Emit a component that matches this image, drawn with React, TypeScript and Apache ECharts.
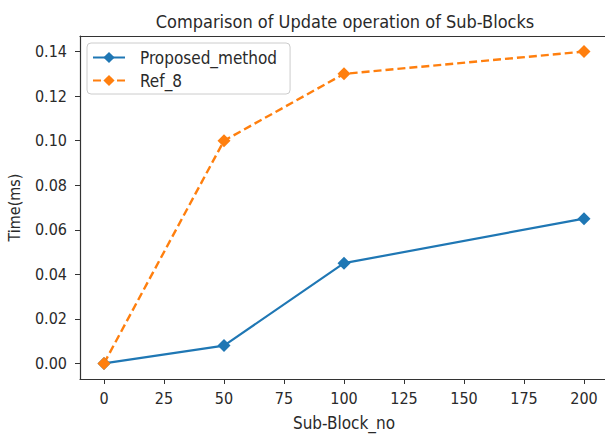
import React, { useEffect, useRef } from "react";
import * as echarts from "echarts";

const subBlocks = [0, 50, 100, 200];
const proposedMethod = [0, 0.008, 0.045, 0.065];
const ref8 = [0, 0.1, 0.13, 0.14];
const xTicks = [0, 25, 50, 75, 100, 125, 150, 175, 200];
const yTicks = [0, 0.02, 0.04, 0.06, 0.08, 0.1, 0.12, 0.14];

const FONT = "DejaVu Sans Condensed, DejaVu Sans";
const TXT = "#2a2a2a";

export default function App() {
  const ref = useRef<HTMLDivElement>(null);
  useEffect(() => {
    if (!ref.current) return;
    const chart = echarts.init(ref.current, undefined, { renderer: "svg" });
    const axisLine = { show: true, onZero: false, lineStyle: { color: "#333", width: 1.2 } };
    const tick = { show: true, inside: false, length: 5, lineStyle: { color: "#333" } };
    chart.setOption({
      animation: false,
      backgroundColor: "#fff",
      title: {
        text: "Comparison of Update operation of Sub-Blocks",
        left: 340,
        textAlign: "center",
        top: 7,
        textStyle: { fontFamily: FONT, fontSize: 18, fontWeight: "normal", color: TXT },
      },
      legend: {
        orient: "vertical",
        left: 87,
        top: 43,
        padding: [6, 13, 5, 5],
        itemGap: 6,
        itemWidth: 32,
        itemHeight: 14,
        borderColor: "#ccc",
        borderWidth: 1,
        borderRadius: 4,
        backgroundColor: "#fff",
        textStyle: { fontFamily: FONT, fontSize: 17, color: TXT, padding: [0, 0, 0, 10] },
        data: ["Proposed_method", "Ref_8"],
      },
      grid: {
        left: 80,
        top: 36,
        width: 528,
        height: 343,
        show: false,
        containLabel: false,
        outerBoundsMode: "none",
      },
      xAxis: [
        {
          type: "value",
          min: -10,
          max: 210,
          name: "Sub-Block_no",
          nameLocation: "middle",
          nameGap: 35,
          nameTextStyle: { fontFamily: FONT, fontSize: 17, color: TXT },
          axisLine,
          axisTick: { ...tick, customValues: xTicks },
          splitLine: { show: false },
          axisLabel: {
            customValues: xTicks,
            margin: 11,
            fontFamily: FONT,
            fontSize: 16,
            color: TXT,
          },
        },
        {
          type: "value",
          position: "top",
          min: -10,
          max: 210,
          axisLine,
          axisTick: { show: false },
          axisLabel: { show: false },
          splitLine: { show: false },
        },
      ],
      yAxis: {
        type: "value",
        min: -0.007,
        max: 0.147,
        name: "Time(ms)",
        nameLocation: "middle",
        nameGap: 58,
        nameTextStyle: { fontFamily: FONT, fontSize: 16, color: TXT },
        axisLine,
        axisTick: { ...tick, customValues: yTicks },
        splitLine: { show: false },
        axisLabel: {
          customValues: yTicks,
          margin: 13,
          fontFamily: FONT,
          fontSize: 16,
          color: TXT,
          formatter: (v: number) => v.toFixed(2),
        },
      },
      series: [
        {
          name: "Proposed_method",
          type: "line",
          xAxisIndex: 0,
          data: subBlocks.map((x, i) => [x, proposedMethod[i]]),
          symbol: "diamond",
          symbolSize: 13,
          showAllSymbol: true,
          itemStyle: { color: "#1f77b4" },
          lineStyle: { color: "#1f77b4", width: 2.2 },
        },
        {
          name: "Ref_8",
          type: "line",
          xAxisIndex: 0,
          data: subBlocks.map((x, i) => [x, ref8[i]]),
          symbol: "diamond",
          symbolSize: 13,
          showAllSymbol: true,
          itemStyle: { color: "#ff7f0e" },
          lineStyle: { color: "#ff7f0e", width: 2.4, type: [8, 4] },
        },
      ],
    });
    return () => chart.dispose();
  }, []);
  return (
    <div
      ref={ref}
      style={{ position: "fixed", left: 0, top: 0, width: 605, height: 434 }}
    />
  );
}
